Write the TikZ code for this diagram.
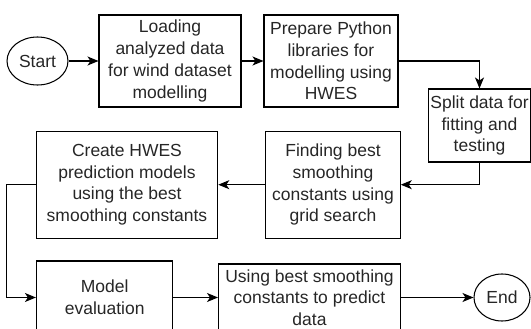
\documentclass[tikz,border=0pt]{standalone}
\usepackage{fontspec}
\setmainfont{Liberation Sans}
\usetikzlibrary{arrows.meta,shapes.geometric}
\begin{document}
\begin{tikzpicture}[x=1pt,y=-1pt,
  box/.style={draw,line width=1.05pt,rectangle,inner sep=0pt,align=center,text=black!85,font=\fontsize{17.5}{21.7}\selectfont},
  term/.style={draw,line width=1.05pt,ellipse,inner sep=0pt,text=black!85,font=\fontsize{17.5}{21.7}\selectfont},
  flow/.style={line width=1.05pt,-{Stealth[length=11pt,width=9pt,inset=3pt]}}]
\useasboundingbox (0,0) rectangle (531,329);
\node[term,minimum width=61pt,minimum height=48pt] (start) at (37.5,61) {Start};
\node[box,minimum width=142pt,minimum height=92pt] (load) at (170,61) {Loading\\analyzed data\\for wind dataset\\modelling};
\node[box,minimum width=134pt,minimum height=92pt] (prep) at (331,61) {Prepare Python\\libraries for\\modelling using\\HWES};
\node[box,minimum width=102pt,minimum height=73pt] (split) at (479.5,125.5) {Split data for\\fitting and\\testing};
\node[box,minimum width=134.5pt,minimum height=107pt] (find) at (333,184.7) {Finding best\\smoothing\\constants using\\grid search};
\node[box,minimum width=181.5pt,minimum height=107pt] (create) at (127,184.7) {Create HWES\\prediction models\\using the best\\smoothing constants};
\node[box,minimum width=136.5pt,minimum height=73pt] (model) at (104.7,297.5) {Model\\evaluation};
\node[box,minimum width=182pt,minimum height=67pt] (using) at (309.5,297.5) {Using best smoothing\\constants to predict\\data};
\node[term,minimum width=56pt,minimum height=47pt] (end) at (502,297.5) {End};
\coordinate (lc) at (6.7,0);
\draw[flow] (start) -- (load);
\draw[flow] (load) -- (prep);
\draw[flow] (prep.east) -| (split.north);
\draw[flow] (split.south) |- (find.east);
\draw[flow] (find) -- (create);
\draw[flow] (create.west) -- (create.west -| lc) |- (model.west);
\draw[flow] (model) -- (using);
\draw[flow] (using) -- (end);
\end{tikzpicture}
\end{document}
